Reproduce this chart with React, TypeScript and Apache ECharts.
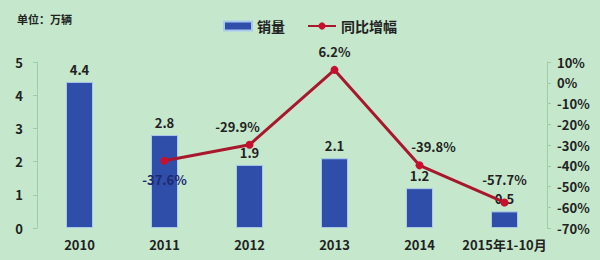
import React, { useEffect, useRef } from "react";
import * as echarts from "echarts";

const categories = ["2010", "2011", "2012", "2013", "2014", "2015年1-10月"];
const sales = [4.4, 2.8, 1.9, 2.1, 1.2, 0.5];
const growth = [null, -37.6, -29.9, 6.2, -39.8, -57.7];
const leftTicks = { min: 0, max: 5, interval: 1 };
const rightTicks = { min: -70, max: 10, interval: 10 };

const FONT = "'Noto Sans CJK SC', 'Noto Sans', sans-serif";

export default function App() {
  const ref = useRef<HTMLDivElement>(null);
  useEffect(() => {
    if (!ref.current) return;
    const chart = echarts.init(ref.current, undefined, { renderer: "svg" });
    const labelPos: any[] = ["top", "bottom", "top", "top", "top", "top"];
    chart.setOption({
      animation: false,
      backgroundColor: "#c5e8cc",
      textStyle: { fontFamily: FONT },
      graphic: [
        {
          type: "text",
          left: 17,
          top: 13,
          style: { text: "单位：万辆", font: `bold 11px ${FONT}`, fill: "#222" },
        },
      ],
      legend: {
        top: 14,
        left: 218,
        itemGap: 22,
        textStyle: { fontSize: 14, fontWeight: "bold", color: "#222", fontFamily: FONT },
        data: [
          { name: "销量", icon: "rect", itemStyle: { color: "#2f4ea9" } },
          { name: "同比增幅" },
        ],
        itemWidth: 28,
        itemHeight: 9,
      },
      grid: { left: 37, right: 53, top: 62, bottom: 32 },
      xAxis: {
        type: "category",
        data: categories,
        axisLine: { show: false },
        axisTick: { show: false },
        axisLabel: {
          interval: 0,
          fontSize: 13,
          fontWeight: "bold",
          color: "#222",
          margin: 10,
          fontFamily: FONT,
        },
      },
      yAxis: [
        {
          type: "value",
          ...leftTicks,
          position: "left",
          splitLine: { show: false },
          axisLine: { show: true, lineStyle: { color: "#9ccfa6" } },
          axisTick: { show: true, length: 4, lineStyle: { color: "#9ccfa6" } },
          axisLabel: { fontSize: 13, fontWeight: "bold", color: "#222", margin: 14, fontFamily: FONT },
        },
        {
          type: "value",
          ...rightTicks,
          position: "right",
          splitLine: { show: false },
          axisLine: { show: true, lineStyle: { color: "#9ccfa6" } },
          axisTick: { show: true, inside: false, length: 4, lineStyle: { color: "#9ccfa6" } },
          axisLabel: {
            fontSize: 13,
            fontWeight: "bold",
            color: "#222",
            margin: 10,
            formatter: "{value}%",
            fontFamily: FONT,
          },
        },
      ],
      series: [
        {
          name: "销量",
          type: "bar",
          data: sales,
          yAxisIndex: 0,
          barWidth: 27,
          itemStyle: { color: "#2f4ea9", borderColor: "#a9c8ec", borderWidth: 1 },
          label: {
            show: true,
            position: "top",
            fontSize: 13,
            fontWeight: "bold",
            color: "#222",
            distance: 6,
            fontFamily: FONT,
          },
        },
        {
          name: "同比增幅",
          type: "line",
          yAxisIndex: 1,
          data: growth.map((v, i) => ({
            value: v,
            label: {
              position: labelPos[i],
              color: i === 1 ? "#1c2a70" : "#222",
              offset: i === 2 ? [-12, 0] : i === 4 ? [14, 0] : i === 5 ? [0, -4] : [0, 0],
            },
          })),
          connectNulls: false,
          symbol: "circle",
          symbolSize: 8,
          lineStyle: { color: "#a8172b", width: 3 },
          itemStyle: { color: "#c8102e" },
          label: {
            show: true,
            formatter: (p: any) => `${p.value}%`,
            fontSize: 13,
            fontWeight: "bold",
            distance: 8,
            fontFamily: FONT,
          },
        },
      ],
    });
    return () => chart.dispose();
  }, []);
  return (
    <div
      ref={ref}
      style={{ position: "fixed", left: 0, top: 0, width: 600, height: 260 }}
    />
  );
}
